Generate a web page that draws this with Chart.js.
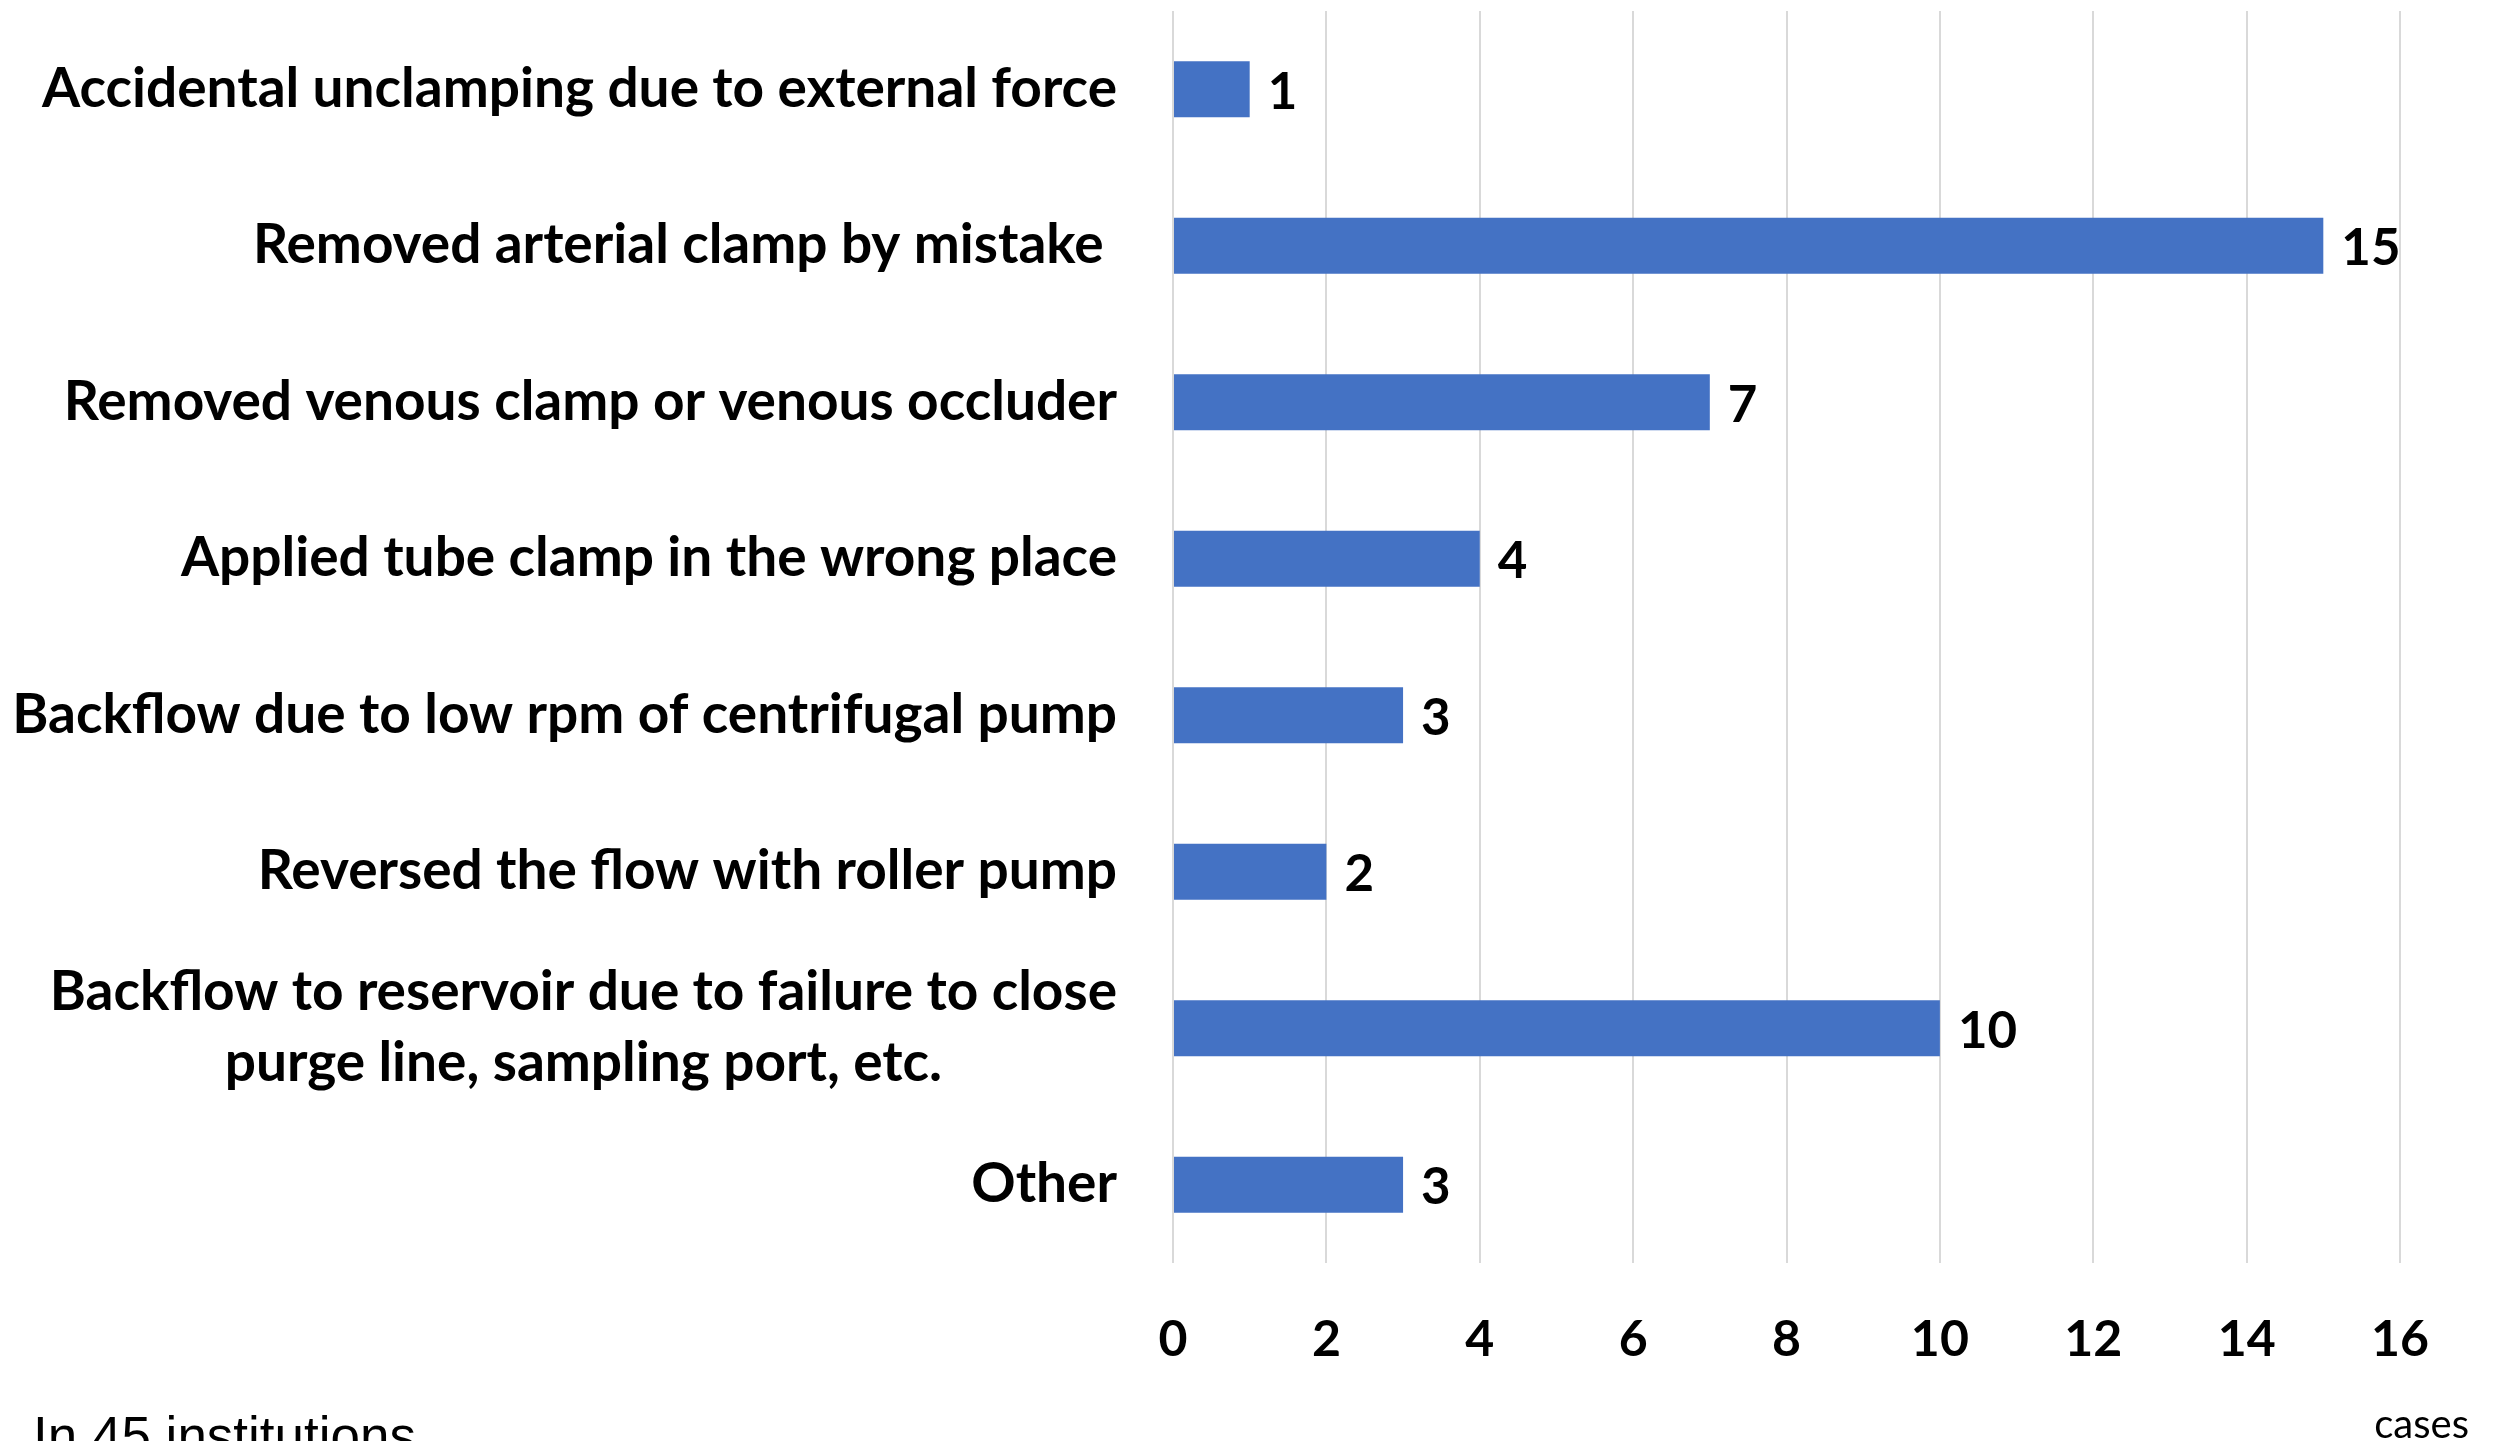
<!DOCTYPE html>
<html>
<head>
<meta charset="utf-8">
<script src="https://cdn.jsdelivr.net/npm/chart.js@4/dist/chart.umd.min.js"></script>
<style>
  html,
  body {
    margin: 0;
    padding: 0;
    background-color: #fff;
  }

  canvas {
    display: block;
  }
</style>
</head>
<body>
<canvas id="myChart" width="2494" height="1441"></canvas>
<script>
const categories = [
  ["Accidental unclamping due to external force"],
  ["Removed arterial clamp by mistake "],
  ["Removed venous clamp or venous occluder"],
  ["Applied tube clamp in the wrong place"],
  ["Backflow due to low rpm of centrifugal pump"],
  ["Reversed the flow with roller pump"],
  ["Backflow to reservoir due to failure to close", "purge line, sampling port, etc."],
  ["Other"],
];
const cases = [1, 15, 7, 4, 3, 2, 10, 3];
const xTicks = [0, 2, 4, 6, 8, 10, 12, 14, 16];

const FONT = "Lato, 'Open Sans', sans-serif";
const BAR_COLOR = "#4472c4";

// category labels: each block is right aligned, its lines centred inside it
const categoryLabels = {
  id: "categoryLabels",
  afterDraw(chart) {
    const { ctx } = chart;
    const yScale = chart.scales.y;
    const right = yScale.right - 56;
    const lineHeight = 71;
    ctx.save();
    ctx.font = "bold 55px " + FONT;
    ctx.fillStyle = "#000";
    ctx.textAlign = "center";
    ctx.textBaseline = "middle";
    categories.forEach((lines, i) => {
      const y = yScale.getPixelForTick(i);
      const width = Math.max(...lines.map((l) => ctx.measureText(l).width));
      const cx = right - width / 2;
      const top = y - ((lines.length - 1) * lineHeight) / 2;
      lines.forEach((line, j) => {
        const lw = ctx.measureText(line).width;
        const trailing = line.endsWith(" ") ? lw - ctx.measureText(line.trimEnd()).width : 0;
        ctx.fillText(line.trimEnd(), cx - trailing / 2, top + j * lineHeight);
      });
    });
    ctx.restore();
  },
};

// value at the end of each bar, plus the footnote and unit
const valueLabels = {
  id: "valueLabels",
  afterDraw(chart) {
    const { ctx } = chart;
    const meta = chart.getDatasetMeta(0);
    ctx.save();
    ctx.font = "bold 51px " + FONT;
    ctx.fillStyle = "#000";
    ctx.textAlign = "left";
    ctx.textBaseline = "middle";
    meta.data.forEach((bar, i) => {
      ctx.fillText(String(cases[i]), bar.x + 18, bar.y + 3);
    });

    ctx.font = "40px " + FONT;
    ctx.textAlign = "right";
    ctx.textBaseline = "alphabetic";
    ctx.fillText("cases", 2469, 1438);

    ctx.font = "53px 'Liberation Sans', Arial, sans-serif";
    ctx.textAlign = "left";
    ctx.fillText("In 45 institutions", 33, 1454);
    ctx.restore();
  },
};

const data = {
  labels: categories,
  datasets: [
    {
      data: cases,
      backgroundColor: BAR_COLOR,
      borderWidth: 0,
      barPercentage: 0.358,
      categoryPercentage: 1,
    },
  ],
};

const config = {
  type: "bar",
  data: data,
  options: {
    indexAxis: "y",
    responsive: false,
    animation: false,
    devicePixelRatio: 1,
    layout: {
      padding: { top: 11, right: 94, bottom: 0, left: 0 },
    },
    scales: {
      x: {
        min: 0,
        max: 16,
        afterBuildTicks: (scale) => {
          scale.ticks = xTicks.map((v) => ({ value: v }));
        },
        afterFit: (scale) => {
          scale.height = 178;
        },
        grid: {
          color: "#d9d9d9",
          lineWidth: 2,
          drawTicks: false,
        },
        border: { display: false },
        ticks: {
          padding: 47,
          color: "#000",
          font: { family: FONT, size: 50, weight: "bold" },
        },
      },
      y: {
        afterFit: (scale) => {
          scale.width = 1173;
        },
        grid: { display: false, drawTicks: false },
        border: { display: false },
        ticks: { display: false },
      },
    },
    plugins: {
      legend: { display: false },
      tooltip: { enabled: false },
    },
  },
  plugins: [categoryLabels, valueLabels],
};

new Chart(document.getElementById("myChart").getContext("2d"), config);
</script>
</body>
</html>
